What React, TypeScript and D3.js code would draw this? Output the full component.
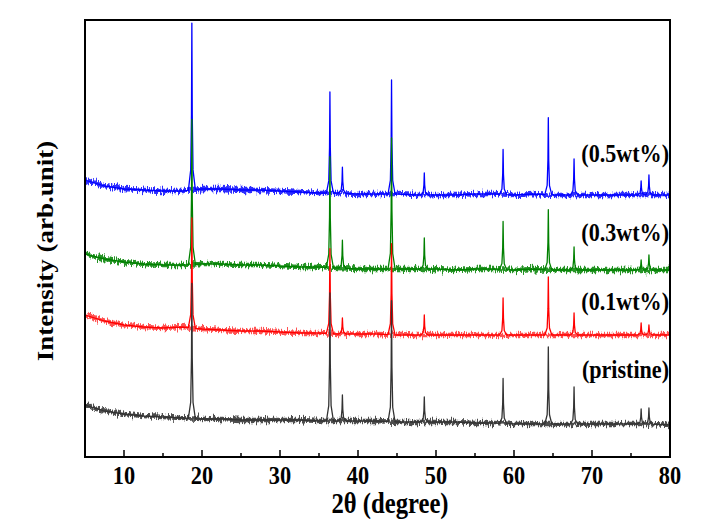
import React from "react";
import * as d3 from "d3";

// ---- data ----
const SERIES_NAMES = ["(0.5wt%)", "(0.3wt%)", "(0.1wt%)", "(pristine)"];
const SERIES_COLORS = ["#0000ff", "#008000", "#ff0000", "#333333"];
const BAND_COLORS = ["#1a1aff", "#118811", "#ff4040", "#3a3a3a"];

const X_MAJOR_TICKS = [10, 20, 30, 40, 50, 60, 70, 80];
const X_MINOR_TICKS = [15, 25, 35, 45, 55, 65, 75];

// baseline sample angles (2θ)
const BASE_ANGLES = [
  5, 7.5, 10, 12.5, 15, 17.5, 20, 22.5, 25, 27.5, 30, 32.5, 35, 37.5, 40, 42.5,
  45, 47.5, 50, 52.5, 55, 57.5, 60, 62.5, 65, 67.5, 70, 72.5, 75, 77.5, 80,
];
// baseline intensities (arb. units, offset stacked)
const BLUE_BASE = [
  277, 271, 268, 267, 266, 266, 268, 268, 267, 267, 266, 265, 264, 264, 263, 263,
  263, 262, 262, 262, 263, 263, 262, 263, 262, 262, 262, 262, 262, 262, 262,
];
const GREEN_BASE = [
  203, 198, 195, 193, 192, 192, 193, 193, 192, 192, 191, 190, 190, 189, 188, 188,
  188, 188, 188, 187, 188, 188, 187, 188, 187, 187, 187, 187, 187, 187, 187,
];
const RED_BASE = [
  142, 136, 132, 130, 129, 130, 128, 127, 126, 126, 125, 124, 124, 123, 123, 123,
  122, 122, 122, 122, 122, 122, 122, 122, 122, 122, 122, 122, 122, 122, 122,
];
const BLACK_BASE = [
  52, 46, 43, 41, 40, 39, 38, 38, 37, 37, 37, 37, 36, 36, 36, 36,
  35, 35, 35, 35, 34, 34, 33, 33, 33, 33, 33, 33, 33, 33, 32,
];

// reflection positions (2θ)
const PEAK_POS = [18.7, 36.4, 38.0, 44.3, 48.5, 58.6, 64.4, 67.7, 76.3, 77.3];
// peak heights above baseline
const BLUE_PEAKS = [167, 101, 26, 114, 22, 45, 77, 36, 14, 20];
const GREEN_PEAKS = [145, 111, 28, 131, 31, 48, 60, 23, 10, 15];
const RED_PEAKS = [110, 85, 16, 91, 20, 37, 58, 22, 12, 10];
const BLACK_PEAKS = [135, 128, 26, 121, 25, 45, 77, 37, 15, 16];

const BASES = [BLUE_BASE, GREEN_BASE, RED_BASE, BLACK_BASE];
const PEAKS = [BLUE_PEAKS, GREEN_PEAKS, RED_PEAKS, BLACK_PEAKS];

// ---- layout ----
const W = 702;
const H = 530;
const M = { left: 85, right: 670, top: 20, bottom: 457 };
const FONT = "'Liberation Serif', 'Times New Roman', Times, serif";

// peak profile (offset in degrees, fraction of height)
const PROFILE_D = [0, 0.05, 0.15, 0.45];
const PROFILE_F = [1, 0.45, 0.12, 0];

function baseAt(base: number[], x: number) {
  const i = Math.min(BASE_ANGLES.length - 2, Math.max(0, d3.bisectRight(BASE_ANGLES, x) - 1));
  const x0 = BASE_ANGLES[i];
  const x1 = BASE_ANGLES[i + 1];
  const t = (x - x0) / (x1 - x0);
  return base[i] + (base[i + 1] - base[i]) * t;
}

function peakAt(peaks: number[], x: number) {
  let s = 0;
  PEAK_POS.forEach((p, j) => {
    const d = Math.abs(x - p);
    if (d >= PROFILE_D[PROFILE_D.length - 1]) return;
    for (let k = 0; k < PROFILE_D.length - 1; k++) {
      if (d >= PROFILE_D[k] && d <= PROFILE_D[k + 1]) {
        const t = (d - PROFILE_D[k]) / (PROFILE_D[k + 1] - PROFILE_D[k]);
        s += peaks[j] * (PROFILE_F[k] + (PROFILE_F[k + 1] - PROFILE_F[k]) * t);
        break;
      }
    }
  });
  return s;
}

function buildSeries(base: number[], peaks: number[]) {
  const xs: number[] = [...BASE_ANGLES];
  PEAK_POS.forEach((p) => {
    PROFILE_D.forEach((d) => {
      xs.push(p - d);
      if (d > 0) xs.push(p + d);
    });
  });
  xs.sort((a, b) => a - b);
  return xs.map((x) => [x, baseAt(base, x) + peakAt(peaks, x)] as [number, number]);
}

export default function App() {
  const x = d3.scaleLinear().domain([5, 80]).range([M.left, M.right]);
  const y = d3.scaleLinear().domain([0, 437]).range([M.bottom, M.top]);
  const line = d3
    .line<[number, number]>()
    .x((d) => x(d[0]))
    .y((d) => y(d[1]));

  const labelY = [162, 241, 310, 378];

  return (
    <svg
      width={W}
      height={H}
      style={{ position: "absolute", left: 0, top: 0, background: "#fff" }}
      fontFamily={FONT}
    >
      <defs>
        <filter id="fuzz" filterUnits="userSpaceOnUse" x={0} y={0} width={W} height={H}>
          <feTurbulence type="fractalNoise" baseFrequency="0.8 0.1" numOctaves={2} seed={4} result="n" />
          <feDisplacementMap in="SourceGraphic" in2="n" scale={10} xChannelSelector="B" yChannelSelector="G" />
        </filter>
        <clipPath id="plot">
          <rect x={M.left} y={M.top} width={M.right - M.left} height={M.bottom - M.top} />
        </clipPath>
      </defs>
      <rect x={0} y={0} width={W} height={H} fill="#fff" />
      <g clipPath="url(#plot)">
        {BASES.map((b, i) => (
          <g key={"g" + i}>
            <path
              d={line(BASE_ANGLES.map((a, k) => [a, b[k]] as [number, number])) || ""}
              fill="none"
              stroke={BAND_COLORS[i]}
              strokeWidth={4.5}
              strokeOpacity={0.9}
              strokeLinejoin="round"
              filter="url(#fuzz)"
            />
            <path
              d={line(buildSeries(b, PEAKS[i])) || ""}
              fill="none"
              stroke={SERIES_COLORS[i]}
              strokeWidth={1.3}
              strokeLinejoin="round"
            />
          </g>
        ))}
      </g>
      {/* frame */}
      <rect
        x={M.left}
        y={M.top}
        width={M.right - M.left}
        height={M.bottom - M.top}
        fill="none"
        stroke="#000"
        strokeWidth={2}
      />
      {/* ticks */}
      {X_MAJOR_TICKS.map((t) => (
        <line key={"mj" + t} x1={x(t)} x2={x(t)} y1={M.bottom} y2={M.bottom - 7} stroke="#000" strokeWidth={1.5} />
      ))}
      {X_MINOR_TICKS.map((t) => (
        <line key={"mn" + t} x1={x(t)} x2={x(t)} y1={M.bottom} y2={M.bottom - 4} stroke="#000" strokeWidth={1.5} />
      ))}
      {X_MAJOR_TICKS.map((t) => (
        <text
          key={"tl" + t}
          transform={`translate(${x(t)},484) scale(0.86,1)`}
          textAnchor="middle"
          fontSize={26}
          fontWeight="bold"
          fill="#000"
        >
          {t}
        </text>
      ))}
      {/* axis titles */}
      <text
        transform={`translate(390,513) scale(0.85,1)`}
        textAnchor="middle"
        fontSize={29}
        fontWeight="bold"
        fill="#000"
      >
        2θ (degree)
      </text>
      <text
        transform={`translate(53,251) rotate(-90) scale(1,0.88)`}
        textAnchor="middle"
        fontSize={27}
        fontWeight="bold"
        fill="#000"
      >
        Intensity (arb.unit)
      </text>
      {/* series labels */}
      {SERIES_NAMES.map((n, i) => (
        <text
          key={n}
          transform={`translate(669,${labelY[i]}) scale(0.85,1)`}
          textAnchor="end"
          fontSize={26}
          fontWeight="bold"
          fill="#000"
        >
          {n}
        </text>
      ))}
    </svg>
  );
}
